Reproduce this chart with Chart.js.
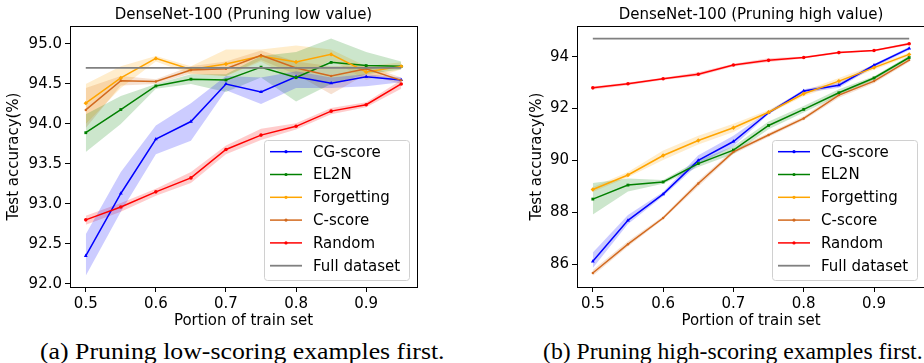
<!DOCTYPE html>
<html>
<head>
<meta charset="utf-8">
<script src="https://cdn.jsdelivr.net/npm/chart.js@4/dist/chart.umd.min.js"></script>
<style>
  html, body { margin: 0; padding: 0; background: #fff; overflow: hidden; }
  body { width: 924px; height: 363px; position: relative; }
  canvas { position: absolute; top: 0; }
  #lowCanvas { left: 0; }
  #highCanvas { left: 460px; }
  .caption {
    position: absolute; top: 337px; white-space: nowrap;
    font-family: "Liberation Serif", "Times New Roman", serif;
    font-size: 24px; line-height: 28px; color: #000;
    transform-origin: left center;
  }
</style>
</head>
<body>
<canvas id="lowCanvas" width="460" height="336"></canvas>
<canvas id="highCanvas" width="470" height="336"></canvas>
<div class="caption" id="capA" style="left:40px">(a) Pruning low-scoring examples first.</div>
<div class="caption" id="capB" style="left:543px">(b) Pruning high-scoring examples first.</div>
<script>
// portion of the train set kept
const portions = [0.5, 0.55, 0.6, 0.65, 0.7, 0.75, 0.8, 0.85, 0.9, 0.95];
const fullDataset = 94.7;

// --- pruning low value ---
const lowCG = [92.35, 93.13, 93.81, 94.03, 94.50, 94.40, 94.59, 94.51, 94.59, 94.55];
const lowCGLo = [92.10, 92.90, 93.62, 93.79, 94.42, 94.25, 94.45, 94.45, 94.47, 94.52];
const lowCGHi = [92.62, 93.40, 93.98, 94.26, 94.60, 94.58, 94.66, 94.58, 94.62, 94.58];
const lowEL2N = [93.89, 94.18, 94.475, 94.56, 94.55, 94.71, 94.58, 94.77, 94.73, 94.72];
const lowEL2NLo = [93.65, 94.00, 94.44, 94.50, 94.40, 94.58, 94.28, 94.50, 94.62, 94.68];
const lowEL2NHi = [94.12, 94.35, 94.50, 94.62, 94.62, 94.85, 94.90, 95.07, 94.90, 94.78];
const lowForget = [94.26, 94.575, 94.82, 94.68, 94.75, 94.85, 94.775, 94.87, 94.65, 94.72];
const lowForgetLo = [94.00, 94.45, 94.78, 94.62, 94.60, 94.78, 94.55, 94.80, 94.55, 94.68];
const lowForgetHi = [94.50, 94.72, 94.85, 94.72, 94.93, 94.93, 94.98, 94.93, 94.72, 94.77];
const lowCscore = [94.175, 94.54, 94.53, 94.675, 94.69, 94.86, 94.70, 94.60, 94.69, 94.545];
const lowCscoreLo = [93.95, 94.48, 94.50, 94.63, 94.60, 94.80, 94.62, 94.37, 94.62, 94.50];
const lowCscoreHi = [94.45, 94.60, 94.56, 94.72, 94.78, 94.92, 94.78, 94.72, 94.73, 94.58];

// --- random pruning (same runs on both panels) ---
const random = [92.80, 92.96, 93.15, 93.325, 93.68, 93.86, 93.97, 94.16, 94.24, 94.50];
const randomLo = [92.74, 92.90, 93.10, 93.26, 93.62, 93.80, 93.93, 94.12, 94.21, 94.44];
const randomHi = [92.85, 93.01, 93.19, 93.40, 93.73, 93.94, 94.01, 94.20, 94.27, 94.55];

// --- pruning high value ---
const highCG = [86.11, 87.69, 88.70, 90.00, 90.73, 91.84, 92.68, 92.90, 93.67, 94.32];
const highCGLo = [85.85, 87.55, 88.62, 89.85, 90.55, 91.78, 92.60, 92.80, 93.60, 94.25];
const highCGHi = [86.45, 87.90, 88.78, 90.20, 90.95, 91.90, 92.75, 93.00, 93.72, 94.38];
const highEL2N = [88.51, 89.05, 89.17, 89.88, 90.40, 91.35, 91.97, 92.61, 93.18, 93.97];
const highEL2NLo = [87.92, 88.80, 89.10, 89.75, 90.25, 91.20, 91.85, 92.50, 93.10, 93.90];
const highEL2NHi = [89.13, 89.30, 89.25, 90.00, 90.55, 91.50, 92.10, 92.75, 93.25, 94.05];
const highForget = [88.88, 89.44, 90.19, 90.77, 91.26, 91.86, 92.57, 93.06, 93.58, 94.09];
const highForgetLo = [88.78, 89.35, 90.02, 90.62, 91.10, 91.80, 92.48, 92.95, 93.50, 94.02];
const highForgetHi = [88.98, 89.55, 90.38, 90.95, 91.42, 91.95, 92.68, 93.18, 93.68, 94.15];
const highCscore = [85.66, 86.77, 87.78, 89.11, 90.33, 90.98, 91.62, 92.52, 93.06, 93.87];
const highCscoreLo = [85.55, 86.68, 87.72, 89.00, 90.25, 90.90, 91.55, 92.42, 92.98, 93.80];
const highCscoreHi = [85.78, 86.88, 87.85, 89.22, 90.42, 91.06, 91.70, 92.62, 93.14, 93.95];

const xTicks = [0.5, 0.6, 0.7, 0.8, 0.9];
const lowYTicks = [92.0, 92.5, 93.0, 93.5, 94.0, 94.5, 95.0];
const highYTicks = [86, 88, 90, 92, 94];

const FONT = 'DejaVu Sans';

// name, colour, band fill, point style, point radius
const styles = {
  'CG-score':   ['#0000ff', 'rgba(0,0,255,0.2)',     'triangle', 2.2],
  'EL2N':       ['#008000', 'rgba(0,128,0,0.2)',     'rect',     2],
  'Forgetting': ['#ffa500', 'rgba(255,165,0,0.2)',   'rectRot',  2.2],
  'C-score':    ['#d2691e', 'rgba(210,105,30,0.2)',  'circle',   1.2],
  'Random':     ['#ff0000', 'rgba(255,0,0,0.2)',     'circle',   1.8],
  'Full dataset': ['#808080', null, false, 0]
};

function pts(arr) {
  return portions.map((x, i) => ({ x: x, y: arr[i] }));
}

function buildDatasets(series) {
  const ds = [];
  series.forEach((s, k) => {
    const st = styles[s.name];
    const lineOrder = 10 - k;
    if (s.lo) {
      ds.push({ data: pts(s.lo), borderWidth: 0, pointRadius: 0, fill: false, order: 20 });
      ds.push({ data: pts(s.hi), borderWidth: 0, pointRadius: 0, fill: '-1',
                backgroundColor: st[1], order: 20 });
    }
    ds.push({
      label: s.name, data: pts(s.values), borderColor: st[0], backgroundColor: st[0],
      borderWidth: 1.5, pointStyle: st[2], pointRadius: st[3], pointBorderWidth: 0,
      fill: false, tension: 0, order: lineOrder
    });
  });
  // full dataset reference line
  ds.push({
    label: 'Full dataset', data: [{ x: 0.5, y: fullDataset }, { x: 0.95, y: fullDataset }],
    borderColor: '#808080', borderWidth: 1.8, pointRadius: 0, fill: false, order: 1
  });
  return ds;
}

// title, frame and in-plot legend drawn matplotlib style
const decorations = {
  id: 'decorations',
  afterDraw(chart, args, opts) {
    const ctx = chart.ctx;
    const a = chart.chartArea;
    ctx.save();
    ctx.strokeStyle = '#000';
    ctx.lineWidth = 1;
    ctx.strokeRect(Math.round(a.left) + 0.5, Math.round(a.top) + 0.5,
                   Math.round(a.right - a.left), Math.round(a.bottom - a.top));

    ctx.fillStyle = '#000';
    ctx.font = '15px "' + FONT + '"';
    ctx.textAlign = 'center';
    ctx.textBaseline = 'middle';
    ctx.fillText(opts.title, (a.left + a.right) / 2, 15);

    // legend box in the lower right corner
    const names = Object.keys(styles);
    const bw = 145, bh = 140;
    const bx = a.right - 8 - bw, by = a.bottom - 7 - bh;
    ctx.beginPath();
    ctx.roundRect(bx + 0.5, by + 0.5, bw, bh, 3);
    ctx.fillStyle = 'rgba(255,255,255,0.8)';
    ctx.fill();
    ctx.strokeStyle = '#d0d0d0';
    ctx.stroke();
    names.forEach((n, i) => {
      const st = styles[n];
      const y = by + 11.7 + i * 22.8;
      ctx.strokeStyle = st[0];
      ctx.lineWidth = n === 'Full dataset' ? 1.8 : 1.5;
      ctx.beginPath();
      ctx.moveTo(bx + 6, y);
      ctx.lineTo(bx + 38, y);
      ctx.stroke();
      if (st[2]) {
        ctx.fillStyle = st[0];
        ctx.beginPath();
        ctx.arc(bx + 22, y, 1.6, 0, Math.PI * 2);
        ctx.fill();
      }
      ctx.fillStyle = '#000';
      ctx.textAlign = 'left';
      ctx.font = '15px "' + FONT + '"';
      ctx.fillText(n, bx + 49, y + 1);
    });
    ctx.restore();
  }
};

function makeChart(id, series, opts) {
  return new Chart(document.getElementById(id), {
    type: 'line',
    data: { datasets: buildDatasets(series) },
    plugins: [decorations],
    options: {
      responsive: false,
      animation: false,
      devicePixelRatio: 1,
      layout: { padding: opts.padding },
      plugins: {
        legend: { display: false },
        tooltip: { enabled: false },
        decorations: { title: opts.title }
      },
      scales: {
        x: {
          type: 'linear', min: 0.4775, max: 0.9725,
          afterBuildTicks: ax => { ax.ticks = xTicks.map(v => ({ value: v })); },
          afterFit: s => { s.height = 47; },
          ticks: { color: '#000', font: { family: FONT, size: 15 }, padding: 3,
                   callback: v => v.toFixed(1) },
          grid: { drawOnChartArea: false, drawTicks: true, tickLength: 5, color: '#000' },
          border: { display: false },
          title: { display: true, text: 'Portion of train set', color: '#000',
                   font: { family: FONT, size: 15 }, padding: { top: 4, bottom: 4 } }
        },
        y: {
          min: opts.yMin, max: opts.yMax,
          afterBuildTicks: ax => { ax.ticks = opts.yTicks.map(v => ({ value: v })); },
          afterFit: s => { s.width = opts.yWidth; },
          ticks: { color: '#000', font: { family: FONT, size: 15 }, padding: 3,
                   callback: opts.yFormat },
          grid: { drawOnChartArea: false, drawTicks: true, tickLength: 5, color: '#000' },
          border: { display: false },
          title: { display: true, text: 'Test accuracy(%)', color: '#000',
                   font: { family: FONT, size: 15 }, padding: { top: 4, bottom: 4 } }
        }
      }
    }
  });
}

makeChart('lowCanvas', [
  { name: 'CG-score', values: lowCG, lo: lowCGLo, hi: lowCGHi },
  { name: 'EL2N', values: lowEL2N, lo: lowEL2NLo, hi: lowEL2NHi },
  { name: 'Forgetting', values: lowForget, lo: lowForgetLo, hi: lowForgetHi },
  { name: 'C-score', values: lowCscore, lo: lowCscoreLo, hi: lowCscoreHi },
  { name: 'Random', values: random, lo: randomLo, hi: randomHi }
], {
  title: 'DenseNet-100 (Pruning low value)',
  padding: { left: 1, right: 43, top: 26, bottom: 2 },
  yMin: 91.96, yMax: 95.225, yTicks: lowYTicks, yWidth: 69,
  yFormat: v => v.toFixed(1)
});

makeChart('highCanvas', [
  { name: 'CG-score', values: highCG, lo: highCGLo, hi: highCGHi },
  { name: 'EL2N', values: highEL2N, lo: highEL2NLo, hi: highEL2NHi },
  { name: 'Forgetting', values: highForget, lo: highForgetLo, hi: highForgetHi },
  { name: 'C-score', values: highCscore, lo: highCscoreLo, hi: highCscoreHi },
  { name: 'Random', values: random, lo: randomLo, hi: randomHi }
], {
  title: 'DenseNet-100 (Pruning high value)',
  padding: { left: 64, right: 5, top: 26, bottom: 2 },
  yMin: 85.12, yMax: 95.185, yTicks: highYTicks, yWidth: 53,
  yFormat: v => String(v)
});

// stretch captions to their column widths
[['capA', 405], ['capB', 380]].forEach(([id, w]) => {
  const el = document.getElementById(id);
  el.style.transform = 'scaleX(' + (w / el.offsetWidth) + ')';
});
</script>
</body>
</html>
